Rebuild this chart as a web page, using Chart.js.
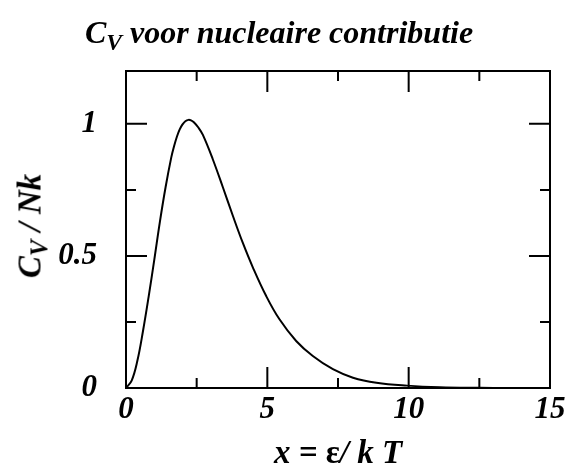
<!DOCTYPE html>
<html><head><meta charset="utf-8">
<script src="https://cdn.jsdelivr.net/npm/chart.js@4.4.1/dist/chart.umd.min.js"></script>
<style>
html,body{margin:0;padding:0;background:#fff;}
#wrap{position:relative;width:568px;height:466px;overflow:hidden;}
canvas{position:absolute;left:0;top:0;}
.t{position:absolute;font-family:"Liberation Serif","Times New Roman",serif;font-weight:bold;font-style:italic;color:#000;white-space:nowrap;line-height:1;font-size:31px;}
.t sub{font-size:0.74em;vertical-align:baseline;position:relative;top:0.3em;}
.up{font-style:normal;}
#title{left:279px;top:16px;font-size:32px;transform:translateX(-50%);}
#xt{left:338px;top:436px;font-size:33px;transform:translateX(-50%);}
#yt{left:29.5px;top:226px;font-size:33px;transform:translate(-50%,-50%) rotate(-90deg);}
</style></head>
<body><div id="wrap"><canvas id="c" width="568" height="466"></canvas>
<div class="t" id="title">C<sub>V</sub> voor nucleaire contributie</div>
<div class="t" id="xt">x = <span class="up">ε</span>/ k T</div>
<div class="t" id="yt">C<sub>V</sub> / Nk</div>
</div>
<script>
// x = ε/kT
const XS = [0, 0.2, 0.4, 0.6, 0.8, 1.0, 1.2, 1.4, 1.6, 1.7, 1.8, 1.9, 2.0, 2.1, 2.21, 2.3, 2.4, 2.56, 2.72, 3.07, 3.43, 3.78, 4.13, 4.49, 4.96, 5.43, 6.02, 6.61, 7.32, 8.03, 8.86, 9.94, 11.1, 12.5, 13.5, 15];
// C_V / Nk
const YS = [0, 0.028, 0.102, 0.215, 0.345, 0.485, 0.63, 0.76, 0.872, 0.915, 0.951, 0.979, 0.998, 1.01, 1.015, 1.013, 1.006, 0.986, 0.958, 0.866, 0.759, 0.652, 0.55, 0.456, 0.348, 0.26, 0.178, 0.121, 0.071, 0.039, 0.020, 0.009, 0.003, 0.0008, 0.0003, 0.0001];
const X_MAJOR = [0, 5, 10, 15];
const X_MINOR = [2.5, 7.5, 12.5];
const Y_MAJOR = [0, 0.5, 1];
const Y_MINOR = [0.25, 0.75];
const X_RANGE = [0, 15];
const Y_RANGE = [0, 1.2];

const FONT = {family: '"Liberation Serif","Times New Roman",serif', size: 31, weight: 'bold', style: 'italic'};

const inTicks = {
  id: 'inTicks',
  afterDatasetsDraw(chart) {
    const {ctx, chartArea: a, scales: {x, y}} = chart;
    const MAJ = 21, MIN = 10;
    ctx.save();
    ctx.strokeStyle = '#000';
    ctx.lineWidth = 2;
    ctx.beginPath();
    const xt = (v, L) => { const p = x.getPixelForValue(v); ctx.moveTo(p, a.bottom); ctx.lineTo(p, a.bottom - L); ctx.moveTo(p, a.top); ctx.lineTo(p, a.top + L); };
    const yt = (v, L) => { const p = y.getPixelForValue(v); ctx.moveTo(a.left, p); ctx.lineTo(a.left + L, p); ctx.moveTo(a.right, p); ctx.lineTo(a.right - L, p); };
    X_MAJOR.forEach(v => xt(v, MAJ));
    X_MINOR.forEach(v => xt(v, MIN));
    Y_MAJOR.forEach(v => yt(v, MAJ));
    Y_MINOR.forEach(v => yt(v, MIN));
    ctx.stroke();
    ctx.strokeRect(a.left, a.top, a.right - a.left, a.bottom - a.top);
    ctx.restore();
  }
};

new Chart(document.getElementById('c'), {
  type: 'line',
  data: {
    datasets: [{
      data: XS.map((v, i) => ({x: v, y: YS[i]})),
      borderColor: '#000',
      borderWidth: 2,
      pointRadius: 0,
      fill: false,
      tension: 0.4
    }]
  },
  options: {
    responsive: false,
    animation: false,
    devicePixelRatio: 1,
    layout: {padding: {top: 71, right: 18, left: 0, bottom: 0}},
    plugins: {legend: {display: false}, tooltip: {enabled: false}, title: {display: false}},
    scales: {
      x: {
        type: 'linear', min: X_RANGE[0], max: X_RANGE[1],
        grid: {display: false}, border: {display: false},
        afterBuildTicks: s => { s.ticks = X_MAJOR.map(v => ({value: v})); },
        afterFit: s => { s.height = 78; },
        ticks: {color: '#000', font: FONT, padding: -5, maxRotation: 0, autoSkip: false, callback: v => String(v)}
      },
      y: {
        type: 'linear', min: Y_RANGE[0], max: Y_RANGE[1],
        grid: {display: false}, border: {display: false},
        afterBuildTicks: s => { s.ticks = Y_MAJOR.map(v => ({value: v})); },
        afterFit: s => { s.width = 126; },
        ticks: {color: '#000', font: FONT, padding: 21, autoSkip: false, callback: v => String(v)}
      }
    }
  },
  plugins: [inTicks]
});
</script>
</body></html>
